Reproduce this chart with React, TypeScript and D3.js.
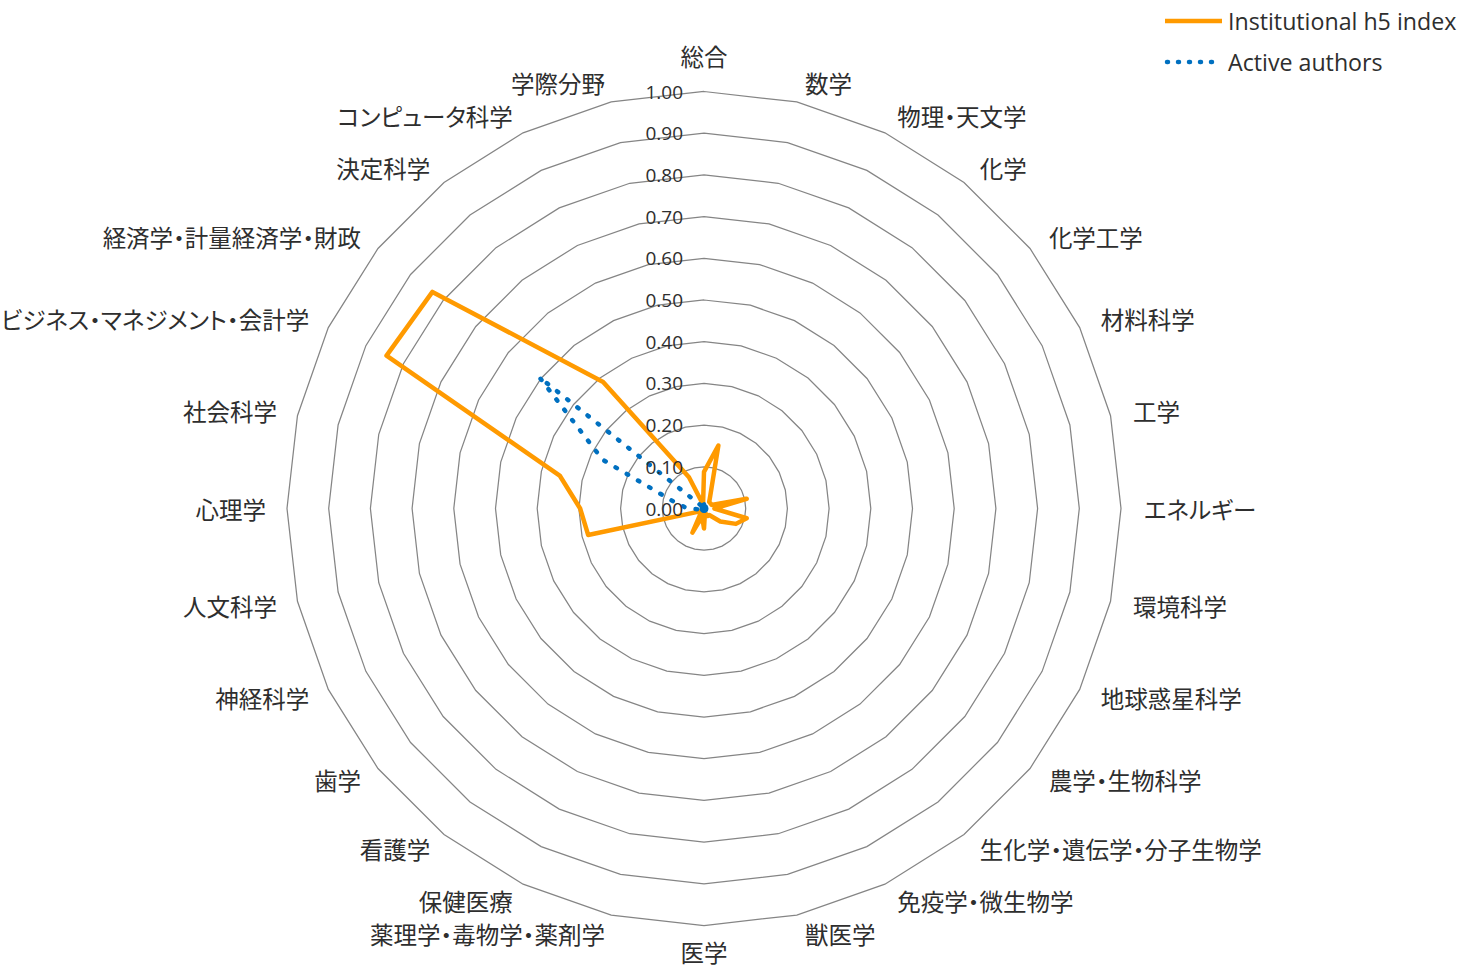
import React from 'react';
import * as d3 from 'd3';

const categories: string[] = [
  '総合', '数学', '物理・天文学', '化学', '化学工学', '材料科学', '工学', 'エネルギー',
  '環境科学', '地球惑星科学', '農学・生物科学', '生化学・遺伝学・分子生物学', '免疫学・微生物学', '獣医学',
  '医学', '薬理学・毒物学・薬剤学', '保健医療', '看護学', '歯学', '神経科学', '人文科学',
  '心理学', '社会科学', 'ビジネス・マネジメント・会計学', '経済学・計量経済学・財政', '決定科学', 'コンピュータ科学', '学際分野',
];

const h5Index: number[] = [
  0.088, 0.155, 0.035, 0.02, 0.02, 0.02, 0.105, 0.025,
  0.105, 0.085, 0.05, 0.02, 0.02, 0.01, 0.048, 0.02,
  0.064, 0.01, 0.01, 0.02, 0.285, 0.297, 0.355, 0.845,
  0.833, 0.388, 0.083, 0.01,
];

const activeAuthors: number[] = [
  0.01, 0.005, 0.005, 0.005, 0.005, 0.005, 0.01, 0.005,
  0.01, 0.005, 0.005, 0.005, 0.005, 0.005, 0.01, 0.005,
  0.005, 0.005, 0.005, 0.005, 0.01, 0.04, 0.075, 0.27,
  0.505, 0.005, 0.005, 0.005,
];

const tickValues: number[] = [0, 0.1, 0.2, 0.3, 0.4, 0.5, 0.6, 0.7, 0.8, 0.9, 1.0];

const seriesNames: string[] = ['Institutional h5 index', 'Active authors'];

const ORANGE = '#FF9A00';
const BLUE = '#0070C0';
const GRID = '#858585';
const TEXT = '#2e2e2e';

export default function App() {
  const W = 1461;
  const H = 969;
  const cx = 704;
  const cy = 508.5;
  const R = 417;
  const n = categories.length;

  const angle = d3.scaleLinear().domain([0, n]).range([0, 2 * Math.PI]);
  const radius = d3.scaleLinear().domain([0, 1]).range([0, R]);

  const radial = d3
    .lineRadial<number>()
    .angle((_d, i) => angle(i))
    .radius((d) => radius(d))
    .curve(d3.curveLinearClosed);

  const labelR = 436;

  return (
    <svg
      width={W}
      height={H}
      style={{ position: 'absolute', left: 0, top: 0, background: '#fff' }}
    >
      <g transform={`translate(${cx},${cy})`}>
        {tickValues.map((t) => (
          <path
            key={'g' + t}
            d={radial(d3.range(n).map(() => t)) || ''}
            fill="none"
            stroke={GRID}
            strokeWidth={1.25}
          />
        ))}
        <path
          d={radial(h5Index) || ''}
          fill="none"
          stroke={ORANGE}
          strokeWidth={4.5}
          strokeLinejoin="round"
        />
        <path
          d={radial(activeAuthors) || ''}
          fill="none"
          stroke={BLUE}
          strokeWidth={4.5}
          strokeLinecap="round"
          strokeLinejoin="round"
          strokeDasharray="1.5 11.5"
        />
        <circle cx={0} cy={0} r={4.5} fill={BLUE} />
        {tickValues.map((t) => (
          <text
            key={'t' + t}
            x={-21}
            y={-radius(t)}
            textAnchor="end"
            dominantBaseline="central"
            fontFamily="'Open Sans', 'Noto Sans', sans-serif"
            fontSize={19}
            fill={TEXT}
          >
            {d3.format('.2f')(t)}
          </text>
        ))}
        {categories.map((c, i) => {
          const a = angle(i);
          const s = Math.sin(a);
          const co = Math.cos(a);
          let x = labelR * s;
          let y = -labelR * co;
          let anchor: 'start' | 'middle' | 'end' = 'middle';
          if (Math.abs(s) < 0.01) {
            anchor = 'middle';
            y = co > 0 ? -453 : 443.5;
          } else if (s > 0) {
            anchor = 'start';
            x += 4;
          } else {
            anchor = 'end';
            x -= 2;
          }
          return (
            <text
              key={c}
              x={x}
              y={y}
              textAnchor={anchor}
              dominantBaseline="central"
              fontFamily="'Noto Sans CJK JP', sans-serif"
              fontSize={23.5}
              fill={TEXT}
              style={{ fontFeatureSettings: '"palt"' }}
            >
              {c}
            </text>
          );
        })}
      </g>
      <g>
        <line x1={1165} x2={1222} y1={21} y2={21} stroke={ORANGE} strokeWidth={4.5} />
        <text
          x={1228}
          y={21}
          dominantBaseline="central"
          fontFamily="'Open Sans', sans-serif"
          fontSize={23.2}
          fill={TEXT}
        >
          {seriesNames[0]}
        </text>
        <line
          x1={1167}
          x2={1220}
          y1={62}
          y2={62}
          stroke={BLUE}
          strokeWidth={4.5}
          strokeLinecap="round"
          strokeDasharray="1 10"
        />
        <text
          x={1228}
          y={62}
          dominantBaseline="central"
          fontFamily="'Open Sans', sans-serif"
          fontSize={23.2}
          fill={TEXT}
        >
          {seriesNames[1]}
        </text>
      </g>
    </svg>
  );
}
